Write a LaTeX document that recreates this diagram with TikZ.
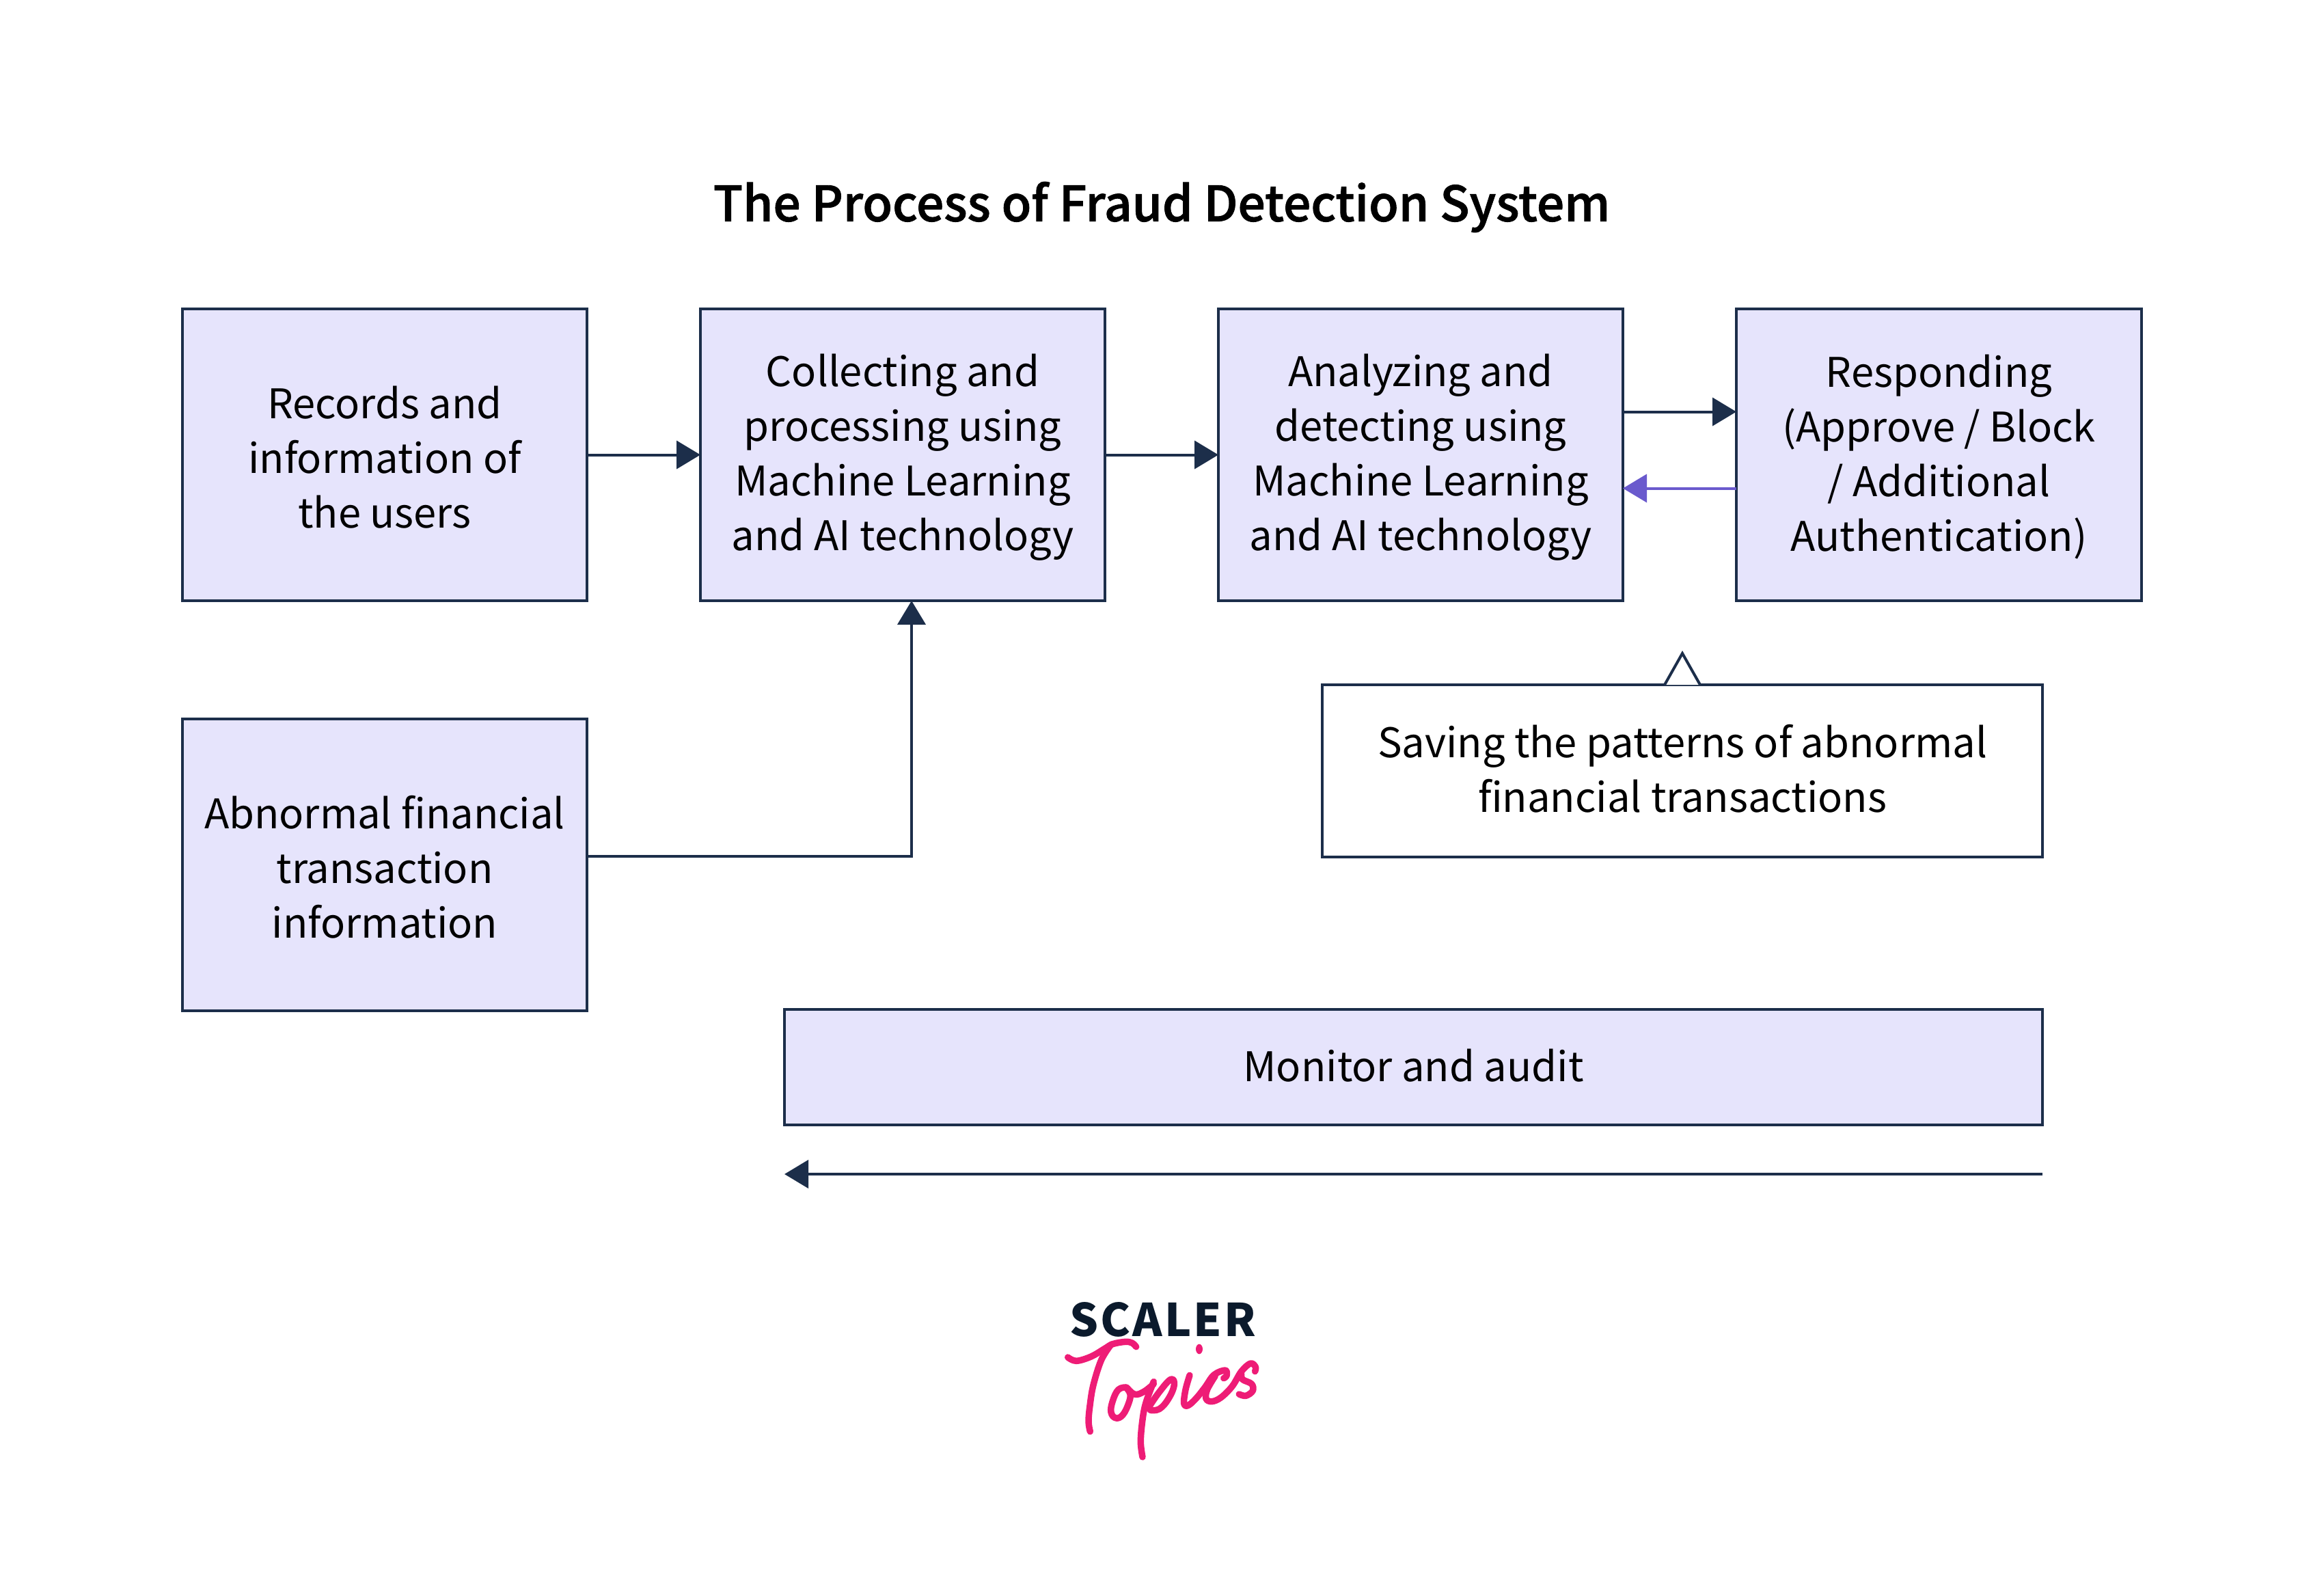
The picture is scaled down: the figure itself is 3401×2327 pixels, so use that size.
\documentclass[tikz,border=0pt]{standalone}
\usepackage{fontspec}
\setmainfont{Noto Sans CJK SC}
\newfontfamily\titlefont[FakeBold=1.2]{Noto Sans CJK SC Medium}
\usetikzlibrary{arrows.meta}
\definecolor{navy}{HTML}{1C2E4A}
\definecolor{boxfill}{HTML}{E6E4FC}
\definecolor{violet}{HTML}{6A5ACD}
\definecolor{ink}{HTML}{0B1A2C}
\definecolor{pinkish}{HTML}{EE1C76}
\newcommand\lnst{\rule[-14pt]{0pt}{50pt}}
\newcommand\lnup[1]{\rule{0pt}{\dimexpr 50pt+#1pt+#1pt\relax}}
\tikzset{
  x=1pt,y=-1pt,
  flow/.style={draw=navy,line width=4pt,fill=boxfill,outer sep=0pt,inner sep=0pt,align=center,text=black,
    font=\fontsize{59.7}{80}\selectfont},
  whitebox/.style={flow,fill=white},
  arr/.style={draw=navy,line width=4pt,-{Triangle[length=35pt,width=41pt]}},
  script/.style={draw=pinkish,line width=9.5pt,line cap=round,line join=round}
}
\begin{document}
\begin{tikzpicture}
\useasboundingbox (0,0) rectangle (3401,2327);
\node[font=\fontsize{71.2}{90}\selectfont\titlefont,text=black] (title) at (1700,303) {The Process of Fraud Detection System};
\node[flow,minimum width=592pt,minimum height=427pt] (b1) at (563,665.5) {\lnup{8.5}Records and\\information of\\\lnst the users};
\node[flow,minimum width=592pt,minimum height=427pt] (b2) at (1321,665.5) {\lnup{2.5}Collecting and\\processing using\\Machine Learning\\\lnst and AI technology};
\node[flow,minimum width=592pt,minimum height=427pt] (b3) at (2079,665.5) {\lnup{2.5}Analyzing and\\detecting using\\Machine Learning\\\lnst and AI technology};
\node[flow,minimum width=593pt,minimum height=427pt] (b4) at (2837.5,665.5) {\lnup{2.5}Responding\\(Approve / Block\\/ Additional\\\lnst Authentication)};
\node[flow,minimum width=592pt,minimum height=427pt] (b5) at (563,1265.5) {\lnup{8.5}Abnormal financial\\transaction\\\lnst information};
\node[whitebox,minimum width=1054pt,minimum height=252pt] (b6) at (2462,1128) {\lnup{2.5}Saving the patterns of abnormal\\\lnst financial transactions};
\node[flow,minimum width=1841pt,minimum height=169pt] (b7) at (2068.5,1561.5) {\lnst\lnup{3}Monitor and audit};
\coordinate (monR) at (2989,1718);
\coordinate (monL) at (1148,1718);
\draw[arr] (b1.east) -- (b2.west);
\draw[arr] (b2.east) -- (b3.west);
\draw[arr] ([yshift=63pt]b3.east) -- ([yshift=63pt]b4.west);
\draw[arr,draw=violet] ([yshift=-49pt]b4.west) -- ([yshift=-49pt]b3.east);
\draw[arr] (b5.east|-1253,1253) -| ([xshift=13pt]b2.south);
\draw[arr] (monR) -- (monL);
\draw[draw=navy,fill=white,line width=4pt,line join=miter] ([xshift=-26pt]b6.north) -- ++(26,-46) -- ++(26,46);
\node[font=\fontsize{66}{70}\selectfont\bfseries,text=ink] (scaler) at (1702,1931) {S\kern3pt C\kern3pt A\kern3pt L\kern3pt E\kern3pt R};
% Topics script
\begin{scope}[xshift=1500pt,yshift=-1850pt,x=0.3333pt,y=-0.3333pt]
\draw[script] plot[smooth,tension=.6] coordinates {(188,408) (225,424) (290,405) (350,370) (385,350) (440,340) (470,345) (488,362)};
\draw[script] plot[smooth,tension=.6] coordinates {(378,352) (335,420) (300,530) (285,620) (279,690) (286,734)};
\draw[script] plot[smooth,tension=.7] coordinates {(445,540) (410,550) (385,600) (378,650) (400,675) (430,660) (455,610) (462,570) (445,540) (480,570) (520,560) (565,525)};
\draw[script] plot[smooth,tension=.6] coordinates {(565,515) (530,610) (515,690) (508,780) (516,846)};
\draw[script] plot[smooth,tension=.7] coordinates {(545,625) (590,560) (640,505) (655,530) (630,590) (590,635) (550,640)};
\draw[script] plot[smooth,tension=.6] coordinates {(723,487) (705,550) (698,610) (715,620) (750,590) (790,540) (830,485) (880,465) (885,490) (872,500)};
\draw[script] plot[smooth,tension=.6] coordinates {(835,490) (800,550) (795,590) (820,602) (860,585) (910,535) (950,470) (990,435) (1012,450) (1010,470)};
\draw[script] plot[smooth,tension=.6] coordinates {(950,480) (955,505) (995,525) (1000,555) (970,577) (940,570)};
\fill[pinkish] (765,372) ellipse [x radius=15, y radius=22];
\end{scope}
\end{tikzpicture}
\end{document}
